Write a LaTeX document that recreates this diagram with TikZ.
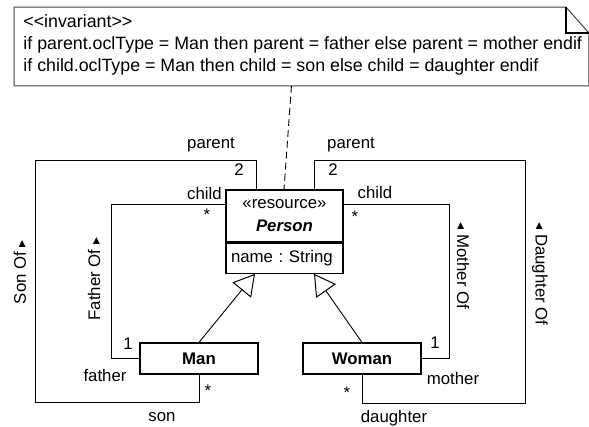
\documentclass[tikz,border=0pt]{standalone}
\usepackage{fontspec}
\setmainfont{Liberation Sans}
\newfontfamily\symfont{DejaVu Sans}
\usetikzlibrary{arrows.meta,calc}
\newcommand{\dirR}{{\symfont\fontsize{14}{14}\selectfont ▸}}
\newcommand{\dirL}{{\symfont\fontsize{14}{14}\selectfont ◂}}

\begin{document}
\frenchspacing
\begin{tikzpicture}[x=1pt,y=-1pt,
  font=\fontsize{16.8}{19}\selectfont,
  line width=0.9pt,
  cls/.style={draw, line width=1.2pt, inner sep=0pt},
  lbl/.style={inner sep=0pt},
  notetext/.style={inner sep=0pt, anchor=base west, font=\fontsize{17.8}{20}\selectfont},
  assoc/.style={line width=0.9pt},
  gen/.style={line width=0.9pt, -{Triangle[open,length=21pt,width=24pt,line width=1pt]}}]
\useasboundingbox (0,0) rectangle (589,426);

% ---------- constraint note ----------
\node[anchor=north west, inner sep=0pt, minimum width=574pt, minimum height=78pt] (note) at (14,7) {};
\draw[line width=1pt, black!75]
  (note.north west) -- ([xshift=-23pt]note.north east)
  -- ([yshift=-26pt]note.north east) -- (note.south east)
  -- (note.south west) -- cycle;
\draw[line width=1.3pt]
  ([xshift=-23pt]note.north east) -- ([xshift=-23pt,yshift=-26pt]note.north east)
  -- ([yshift=-26pt]note.north east);
\node[notetext] (inv)  at (23,27) {<\kern0pt<invariant>\kern0pt>};
\node[notetext] (inv1) at (23,49) {if parent.oclType = Man then parent = father else parent = mother endif};
\node[notetext] (inv2) at (23,71) {if child.oclType = Man then child = son else child = daughter endif};

% ---------- classes ----------
\node[cls, minimum width=117pt, minimum height=52pt, align=center,
      font=\fontsize{16.8}{23}\selectfont] (person) at (284.5,216)
  {«resource»\\\textbf{\textit{Person}}};
\node[cls, anchor=north, minimum width=117pt, minimum height=30pt,
      text width=107pt, inner xsep=5pt, align=left] (attr) at (person.south)
  {name : String};
\node[cls, minimum width=118pt, minimum height=31pt] (man)   at (199,358.5) {\textbf{Man}};
\node[cls, minimum width=118pt, minimum height=31pt] (woman) at (362,358.5) {\textbf{Woman}};

% ---------- note anchor ----------
\draw[dashed, dash pattern=on 7pt off 4pt, line width=0.9pt]
  ([xshift=-10pt]note.south) -- ([xshift=-0.5pt]person.north);

% ---------- generalizations ----------
\draw[gen] (man.north)   -- ([xshift=-29.5pt]attr.south);
\draw[gen] (woman.north) -- ([xshift=29.5pt]attr.south);

% ---------- associations ----------
\draw[assoc] ([xshift=-28.5pt]person.north) -- ++(0,-29) -| (35,402) -| (man.south);
\draw[assoc] ([yshift=12pt]person.west) -- (111,204) |- (man.west);
\draw[assoc] ([yshift=12pt]person.east) -- (449,204) |- (woman.east);
\draw[assoc] ([xshift=29.5pt]person.north) -- ++(0,-29) -| (525,403) -| (woman.south);

% ---------- role names and multiplicities ----------
\node[lbl] (pl)  at (211,145) {parent};
\node[lbl] (pr)  at (351,145) {parent};
\node[lbl] (twl) at (239,170) {2};
\node[lbl] (twr) at (333,170) {2};
\node[lbl] (cl)  at (204.5,193) {child};
\node[lbl] (cr)  at (375,192) {child};
\node[lbl] (sl)  at (207,215) {*};
\node[lbl] (sr)  at (355,217) {*};
\node[lbl] (ol)  at (128,344) {1};
\node[lbl] (or)  at (435,343) {1};
\node[lbl] (fa)  at (105,375) {father};
\node[lbl] (mo)  at (453,378) {mother};
\node[lbl] (sm)  at (208,391) {*};
\node[lbl] (sw)  at (347,393) {*};
\node[lbl] (so)  at (162,417) {son};
\node[lbl] (da)  at (394,418) {daughter};

% ---------- association names ----------
\node[lbl, rotate=90]  (sonof) at (20,272)  {Son Of \dirR};
\node[lbl, rotate=90]  (fof)   at (94,279)  {Father Of \dirR};
\node[lbl, rotate=-90] (mof)   at (463,266) {\dirL\ Mother Of};
\node[lbl, rotate=-90] (dof)   at (540,274) {\dirL\ Daughter Of};
\end{tikzpicture}
\end{document}
